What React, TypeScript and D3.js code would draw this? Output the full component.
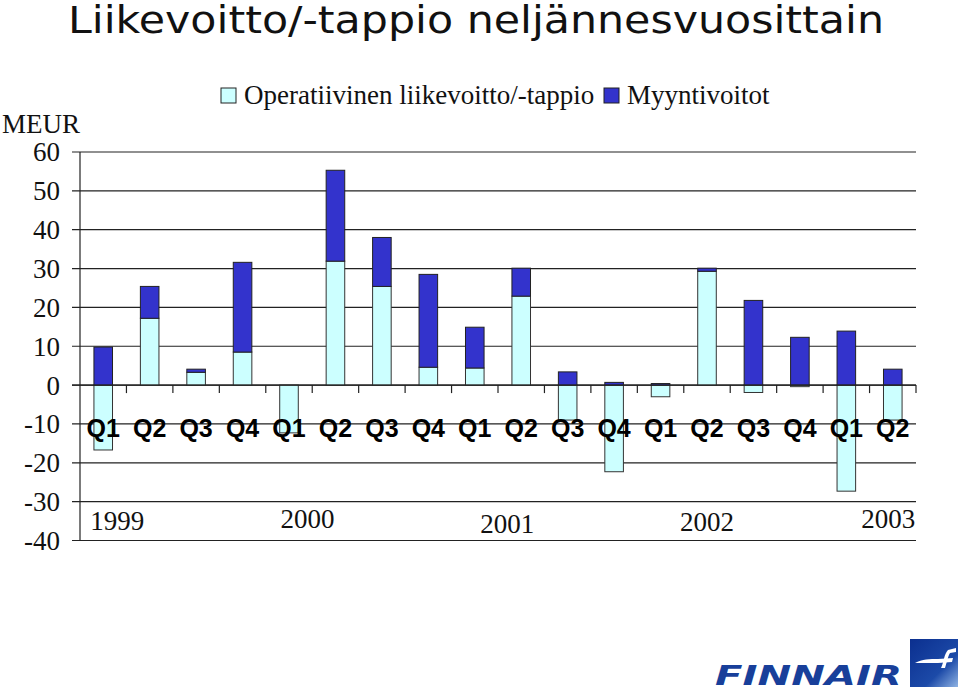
import React, { useEffect, useRef } from 'react';
import * as d3 from 'd3';

// quarterly values, MEUR
const quarters = ['Q1', 'Q2', 'Q3', 'Q4', 'Q1', 'Q2', 'Q3', 'Q4', 'Q1', 'Q2', 'Q3', 'Q4', 'Q1', 'Q2', 'Q3', 'Q4', 'Q1', 'Q2'];
const operative = [-16.7, 17.2, 3.3, 8.5, -12.3, 31.9, 25.4, 4.6, 4.4, 22.9, -9.0, -22.3, -3.0, 29.3, -1.9, -0.4, -27.3, -9.0];
const salesGains = [9.8, 8.2, 0.8, 23.1, 0, 23.4, 12.6, 23.9, 10.5, 7.2, 3.4, 0.7, 0.4, 0.8, 21.8, 12.3, 13.9, 4.1];
const years = ['1999', '2000', '2001', '2002', '2003'];
const yearAt = [0.3, 4.4, 8.7, 13.0, 16.9]; // in quarter units
const yearDy = [0, -2, 3, 1, -2];
const yTicks = [60, 50, 40, 30, 20, 10, 0, -10, -20, -30, -40];
const seriesNames = ['Operatiivinen liikevoitto/-tappio', 'Myyntivoitot'];
const seriesColors = ['#ccffff', '#3333cc'];

const W = 959;
const H = 690;

const App = () => {
  const svgRef = useRef<SVGSVGElement>(null);

  useEffect(() => {
    const svg = d3.select(svgRef.current);
    svg.selectAll('*').remove();

    const x = d3.scaleBand<number>()
      .domain(d3.range(quarters.length))
      .range([80, 916])
      .paddingInner(0.6)
      .paddingOuter(0.3);
    const xq = d3.scaleLinear().domain([0, quarters.length]).range([80, 916]);
    const y = d3.scaleLinear().domain([-40, 60]).range([540.5, 152]);

    const serif = '"Liberation Serif", "Times New Roman", serif';
    const sans = '"Liberation Sans", Arial, sans-serif';

    // title
    svg.append('text')
      .attr('x', 68).attr('y', 33)
      .attr('font-family', '"DejaVu Sans", Verdana, sans-serif')
      .attr('font-size', 37)
      .attr('textLength', 816)
      .attr('lengthAdjust', 'spacingAndGlyphs')
      .attr('fill', '#111')
      .text('Liikevoitto/-tappio neljännesvuosittain');

    // gridlines + y ticks
    svg.append('g').selectAll('line')
      .data(yTicks)
      .join('line')
      .attr('x1', 72).attr('x2', 916)
      .attr('y1', d => y(d)).attr('y2', d => y(d))
      .attr('stroke', '#222').attr('stroke-width', 1.2);

    svg.append('g').selectAll('text')
      .data(yTicks)
      .join('text')
      .attr('x', 60).attr('y', d => y(d))
      .attr('dy', '0.35em')
      .attr('text-anchor', 'end')
      .attr('font-family', serif).attr('font-size', 27)
      .attr('fill', '#111')
      .text(d => d);

    svg.append('text')
      .attr('x', 2).attr('y', 133)
      .attr('font-family', serif).attr('font-size', 27)
      .attr('fill', '#111')
      .text('MEUR');

    // bars
    const bars = svg.append('g');
    quarters.forEach((_, i) => {
      const op = operative[i];
      const s = salesGains[i];
      const base = op >= 0 ? op : 0;
      bars.append('rect')
        .attr('x', x(i)!).attr('width', x.bandwidth())
        .attr('y', y(Math.max(op, 0))).attr('height', Math.abs(y(op) - y(0)))
        .attr('fill', seriesColors[0]).attr('stroke', '#333').attr('stroke-width', 1);
      if (s > 0) {
        bars.append('rect')
          .attr('x', x(i)!).attr('width', x.bandwidth())
          .attr('y', y(base + s)).attr('height', y(base) - y(base + s))
          .attr('fill', seriesColors[1]).attr('stroke', '#222').attr('stroke-width', 1);
      }
    });

    // axes lines
    svg.append('line')
      .attr('x1', 80).attr('x2', 80).attr('y1', y(60)).attr('y2', y(-40))
      .attr('stroke', '#222').attr('stroke-width', 1.2);
    svg.append('line')
      .attr('x1', 72).attr('x2', 916).attr('y1', y(0)).attr('y2', y(0))
      .attr('stroke', '#222').attr('stroke-width', 1.2);
    svg.append('g').selectAll('line')
      .data(d3.range(1, quarters.length + 1))
      .join('line')
      .attr('x1', d => xq(d)).attr('x2', d => xq(d))
      .attr('y1', y(0)).attr('y2', y(0) + 8)
      .attr('stroke', '#222').attr('stroke-width', 1.2);

    // quarter labels
    svg.append('g').selectAll('text')
      .data(quarters)
      .join('text')
      .attr('x', (_, i) => x(i)! + x.bandwidth() / 2)
      .attr('y', 437)
      .attr('text-anchor', 'middle')
      .attr('font-family', sans).attr('font-weight', 'bold').attr('font-size', 25)
      .attr('fill', '#000')
      .text(d => d);

    // year labels
    svg.append('g').selectAll('text')
      .data(years)
      .join('text')
      .attr('x', (_, i) => xq(yearAt[i] + 0.5))
      .attr('y', (_, i) => 530 + yearDy[i])
      .attr('text-anchor', 'middle')
      .attr('font-family', serif).attr('font-size', 27)
      .attr('fill', '#111')
      .text(d => d);

    // legend
    const legendX = [221, 604];
    seriesNames.forEach((name, i) => {
      svg.append('rect')
        .attr('x', legendX[i]).attr('y', 88)
        .attr('width', 15).attr('height', 15)
        .attr('fill', seriesColors[i]).attr('stroke', '#222');
      svg.append('text')
        .attr('x', legendX[i] + 23).attr('y', 104)
        .attr('font-family', serif).attr('font-size', 27)
        .attr('fill', '#111')
        .text(name);
    });

    // Finnair logo
    const logo = svg.append('g');
    const defs = svg.append('defs');
    const grad = defs.append('linearGradient').attr('id', 'logo-grad')
      .attr('x1', '0').attr('y1', '0').attr('x2', '1').attr('y2', '1');
    grad.append('stop').attr('offset', '0%').attr('stop-color', '#0b2f8f');
    grad.append('stop').attr('offset', '65%').attr('stop-color', '#1c4aa8');
    grad.append('stop').attr('offset', '100%').attr('stop-color', '#8fb3e3');
    logo.append('text')
      .attr('x', 715).attr('y', 685)
      .attr('font-family', '"DejaVu Sans", sans-serif')
      .attr('font-weight', 'bold').attr('font-style', 'italic')
      .attr('font-size', 26)
      .attr('textLength', 187).attr('lengthAdjust', 'spacingAndGlyphs')
      .attr('fill', '#183f9a')
      .text('FINNAIR');
    logo.append('rect')
      .attr('x', 910).attr('y', 639).attr('width', 48).attr('height', 48)
      .attr('fill', 'url(#logo-grad)');
    logo.append('path')
      .attr('d', 'M915,663 C922,659 930,659 938,659 L953,658 L952,662 L938,663 C930,663 922,663 915,663 Z')
      .attr('fill', '#fff');
    logo.append('path')
      .attr('d', 'M941,668 C944,662 944,654 948,650 L956,648 L956,652 L950,653 C948,656 947,662 945,668 Z')
      .attr('fill', '#fff');
  }, []);

  return (
    <svg ref={svgRef} width={W} height={H}
      style={{ position: 'absolute', left: 0, top: 0, background: '#fff' }} />
  );
};

export default App;
